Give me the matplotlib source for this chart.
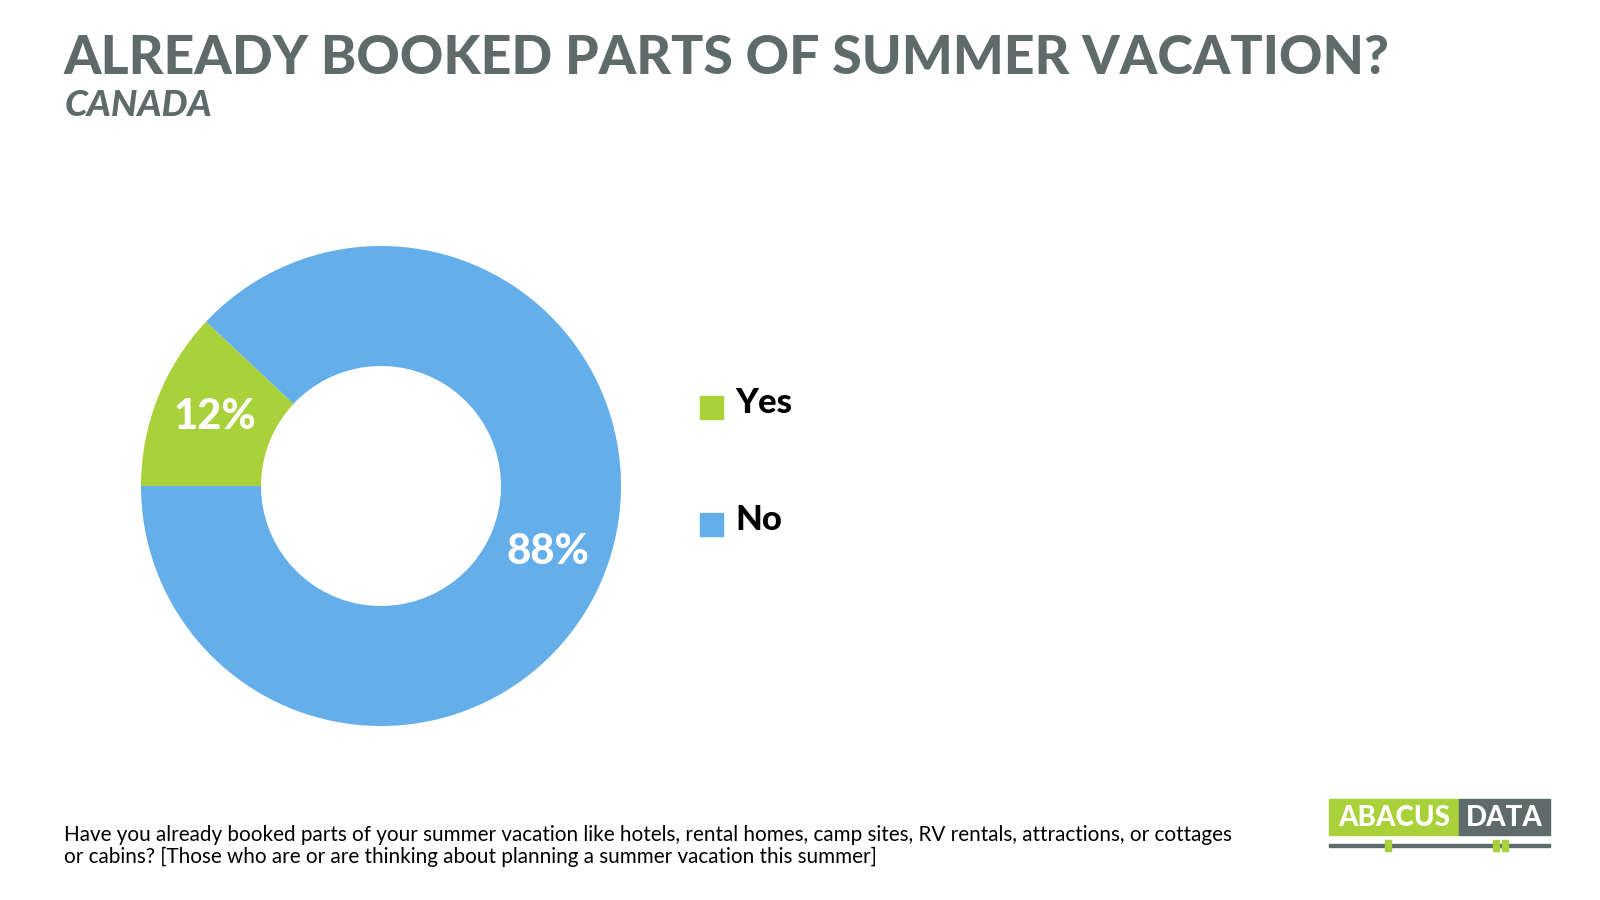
import matplotlib.pyplot as plt
from matplotlib.patches import Rectangle

# data
labels = ["Yes", "No"]
values = [12, 88]
colors = ["#A8D13A", "#64AEEA"]

title = "ALREADY BOOKED PARTS OF SUMMER VACATION?"
subtitle = "CANADA"
footnote = ("Have you already booked parts of your summer vacation like hotels, rental homes, camp sites, RV rentals, attractions, or cottages\n"
            "or cabins? [Those who are or are thinking about planning a summer vacation this summer]")

W, H = 1600, 900
fig = plt.figure(figsize=(16, 9), dpi=100)
fig.patch.set_facecolor("white")

def fx(x):
    return x / W

def fy(y):
    return 1 - y / H

gray = "#5F6B6A"

# titles
fig.text(fx(63), fy(58), title, fontsize=38.6, fontweight="black", color=gray,
         family="Lato", va="center", ha="left")
fig.text(fx(65), fy(106), subtitle, fontsize=26.5, fontweight="black", style="italic",
         color=gray, family="Lato", va="center", ha="left")

# donut
cx, cy, r = 381, 486, 240
ax = fig.add_axes([fx(cx - r), fy(cy + r), 2 * r / W, 2 * r / H])
wedges, _ = ax.pie(values, colors=colors, startangle=180, counterclock=False,
                   radius=1, wedgeprops=dict(width=0.5, edgecolor="none"))
ax.set_xlim(-1, 1)
ax.set_ylim(-1, 1)
ax.set_aspect("auto")
ax.axis("off")

# value labels
fig.text(fx(215), fy(417), f"{values[0]}%", fontsize=30, fontweight="black",
         color="white", family="Lato", ha="center", va="center")
fig.text(fx(548), fy(552), f"{values[1]}%", fontsize=30, fontweight="black",
         color="white", family="Lato", ha="center", va="center")

# legend
for i, (lab, col) in enumerate(zip(labels, colors)):
    ytop = 396 + i * 117
    fig.patches.append(Rectangle((fx(700), fy(ytop + 23)), 23 / W, 23 / H,
                                 transform=fig.transFigure, color=col))
    fig.text(fx(735), fy(ytop + 7), lab, fontsize=25, fontweight="black",
             color="black", family="Lato", va="center", ha="left")

# footnote
fig.text(fx(64), fy(846), footnote, fontsize=14.9, color="black", family="Lato",
         va="center", ha="left", linespacing=1.1)

# logo
fig.patches.append(Rectangle((fx(1329), fy(835)), 130 / W, 36 / H,
                             transform=fig.transFigure, color="#A8D13A"))
fig.patches.append(Rectangle((fx(1459), fy(835)), 91 / W, 36 / H,
                             transform=fig.transFigure, color="#5F6B6A"))
fig.text(fx(1394), fy(818), "ABACUS", fontsize=20, fontweight="black", color="white",
         family="Lato", ha="center", va="center")
fig.text(fx(1504), fy(818), "DATA", fontsize=20, fontweight="black", color="white",
         family="Lato", ha="center", va="center")
fig.patches.append(Rectangle((fx(1329), fy(847)), 221 / W, 3 / H,
                             transform=fig.transFigure, color="#5F6B6A"))
for x0 in [1385, 1493, 1502]:
    fig.patches.append(Rectangle((fx(x0), fy(851)), 6 / W, 11 / H,
                                 transform=fig.transFigure, color="#A8D13A"))

fig.savefig("out.png", dpi=100)
